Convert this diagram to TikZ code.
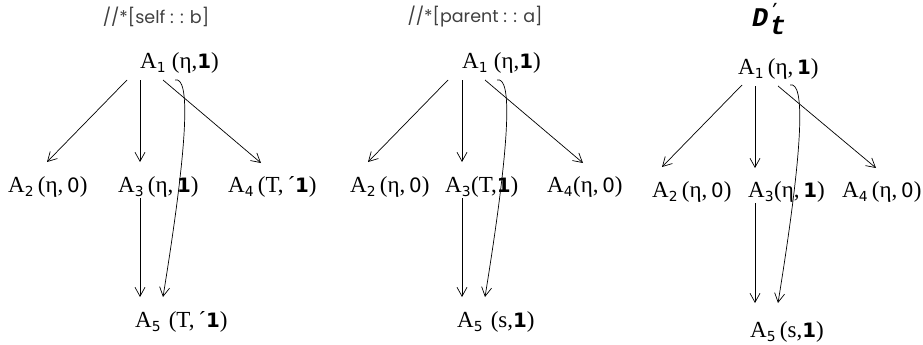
\documentclass[tikz,border=0pt]{standalone}
\usepackage{fontspec}
\setmainfont{Liberation Serif}
\newfontfamily\querysf{Poppins}
\newfontfamily\digitsf{DejaVu Sans}[Scale=0.86]
\newfontfamily\dtmono{Liberation Mono}
\usetikzlibrary{arrows.meta}
\newcommand{\An}[1]{A\textsubscript{\digitsf #1}}
\newcommand{\bit}[1]{{\digitsf #1}}

\begin{document}
\begin{tikzpicture}[
    x=1pt, y=-1pt,
    vnode/.style={anchor=west, inner sep=0pt, font=\fontsize{23}{27}\selectfont},
    query/.style={font=\querysf\fontsize{17.5}{20}\selectfont, text=black!75},
    arrow/.style={-{Straight Barb[length=9pt,width=10pt]}, line width=0.7pt}
]
\useasboundingbox (0,0) rectangle (923,345);

% Queries
\node[query] at (156,17) (selfq) {//*[self : : b]};
\node[query] at (475,17) (parentq) {//*[parent : : a]};
\node[font=\dtmono\bfseries\itshape\fontsize{27}{30}\selectfont, inner sep=0pt] at (769,19) (dtq)
    {D\kern1.5pt\rlap{\raisebox{13pt}{\fontsize{14}{14}\selectfont ’}}\raisebox{-8pt}{t}};

% self::b
\node[vnode] at (140,63) (sa1) {\An{1} (η,\bit{\bfseries 1})};
\node[vnode] at (8,187) (sa2) {\An{2}\,(η,\,\bit{0})};
\node[vnode] at (118,187) (sa3) {\An{3}\,(η,\,\bit{\bfseries 1})};
\node[vnode] at (228,187) (sa4) {\An{4}\,(T,\,´\bit{\bfseries 1})};
\node[vnode] at (135,322) (sa5) {\An{5}\,\,(T,\,´\bit{\bfseries 1})};

% parent::a
\node[vnode] at (350,187) (pa2) {\An{2}\,(η,\,\bit{0})};
\node[vnode] at (462,63) (pa1) {\An{1} (η,\bit{\bfseries 1})};
\node[vnode] at (445,187) (pa3) {\An{3}(T,\bit{\bfseries 1})};
\node[vnode] at (547,187) (pa4) {\An{4}(η,\,\bit{0})};
\node[vnode] at (457,322) (pa5) {\An{5}\,\,(s,\bit{\bfseries 1})};

% D'_t
\node[vnode] at (738,69) (da1) {\An{1}\,(η,\,\bit{\bfseries 1})};
\node[vnode] at (652,192) (da2) {\An{2}\,(η,\,\bit{0})};
\node[vnode] at (748,192) (da3) {\An{3}(η,\,\bit{\bfseries 1})};
\node[vnode] at (842,192) (da4) {\An{4}\,(η,\,\bit{0})};
\node[vnode] at (750,332) (da5) {\An{5}\,(s,\bit{\bfseries 1})};

% Edges
\draw[arrow] ([shift={(-13,17)}]sa1.west) -- ([shift={(39,-25)}]sa2.west);
\draw[arrow] ([shift={(0,17)}]sa1.west) -- ([shift={(22,-25)}]sa3.west);
\draw[arrow] ([shift={(23,17)}]sa1.west) -- ([shift={(33,-24)}]sa4.west);
\draw[arrow] ([shift={(22,11)}]sa3.west) -- ([shift={(5,-25)}]sa5.west);
\draw[arrow] ([shift={(35,17)}]sa1.west) .. controls +(15,-4) and +(26,-160) .. ([shift={(28,-25)}]sa5.west);

\draw[arrow] ([shift={(-14,17)}]pa1.west) -- ([shift={(18,-25)}]pa2.west);
\draw[arrow] ([shift={(0,17)}]pa1.west) -- ([shift={(17,-25)}]pa3.west);
\draw[arrow] ([shift={(23,17)}]pa1.west) -- ([shift={(36,-24)}]pa4.west);
\draw[arrow] ([shift={(17,11)}]pa3.west) -- ([shift={(5,-25)}]pa5.west);
\draw[arrow] ([shift={(35,17)}]pa1.west) .. controls +(15,-4) and +(26,-160) .. ([shift={(28,-25)}]pa5.west);

\draw[arrow] ([shift={(4,16)}]da1.west) -- ([shift={(10,-25)}]da2.west);
\draw[arrow] ([shift={(17,17)}]da1.west) -- ([shift={(7,-24)}]da3.west);
\draw[arrow] ([shift={(40,17)}]da1.west) -- ([shift={(34,-24)}]da4.west);
\draw[arrow] ([shift={(7,11)}]da3.west) -- ([shift={(5,-29)}]da5.west);
\draw[arrow] ([shift={(52,16)}]da1.west) .. controls +(15,-4) and +(26,-160) .. ([shift={(28,-29)}]da5.west);

\end{tikzpicture}
\end{document}
